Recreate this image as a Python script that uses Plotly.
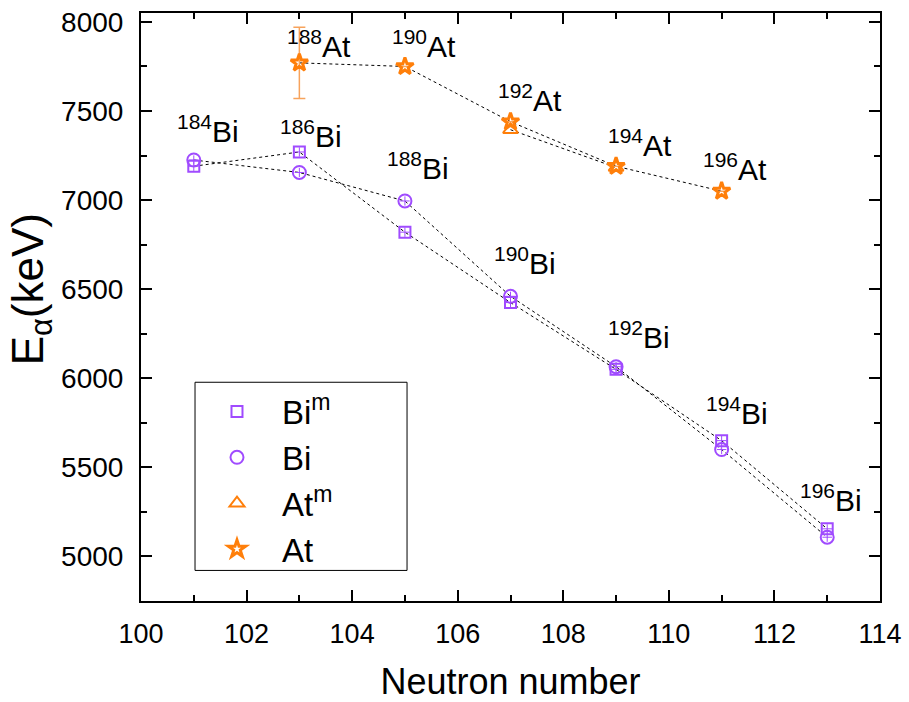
import plotly.graph_objects as go

# ---------------- data ----------------
N_bi = [101, 103, 105, 107, 109, 111, 113]
E_bi_m = [7190, 7270, 6820, 6425, 6050, 5650, 5155]
E_bi = [7225, 7155, 6995, 6460, 6065, 5600, 5108]

N_at = [103, 105, 107, 109, 111]
E_at = [7770, 7750, 7440, 7190, 7050]
E_at_err = [200, 0, 0, 0, 0]

N_at_m = [107, 109]
E_at_m = [7395, 7183]

Z_BI = 83
Z_AT = 85

x_ticks = [100, 102, 104, 106, 108, 110, 112, 114]
y_ticks = [5000, 5500, 6000, 6500, 7000, 7500, 8000]

# label pixel offsets (styling, relative to upper marker at each N)
bi_label_shift = [(14, 31), (12, 18), (13, 35), (14, 35), (23, 32), (15, 30), (4, 31)]
at_label_shift = [(20, 19), (19, 22), (19, 24), (24, 23), (13, 24)]

PURPLE = "#A04BFF"
ORANGE = "#FF7F0A"
ORANGE_ERR = "#F7A35C"
FONT = "Liberation Sans, Arial, sans-serif"

fig = go.Figure()

dash_line = dict(color="black", width=1, dash="3px,3px")
# connecting dashed lines
for xs, ys in [(N_bi, E_bi_m), (N_bi, E_bi), (N_at_m, E_at_m), (N_at, E_at)]:
    fig.add_trace(go.Scatter(x=xs, y=ys, mode="lines", line=dash_line,
                             showlegend=False, hoverinfo="skip"))

small_y = dict(type="constant", value=26, color=PURPLE, thickness=1, width=0)
small_x = dict(type="constant", value=0.09, color=PURPLE, thickness=1, width=0)

fig.add_trace(go.Scatter(x=N_bi, y=E_bi_m, mode="markers", name="Bi<sup>m</sup>",
                         marker=dict(symbol="square-open", size=11, color=PURPLE,
                                     line=dict(width=2, color=PURPLE)),
                         error_y=small_y, error_x=small_x))
fig.add_trace(go.Scatter(x=N_bi, y=E_bi, mode="markers", name="Bi",
                         marker=dict(symbol="circle-open", size=13, color=PURPLE,
                                     line=dict(width=2, color=PURPLE)),
                         error_y=small_y, error_x=small_x))
fig.add_trace(go.Scatter(x=N_at_m, y=E_at_m, mode="markers", name="At<sup>m</sup>",
                         marker=dict(symbol="triangle-up-open", size=13, color=ORANGE,
                                     line=dict(width=2, color=ORANGE))))
fig.add_trace(go.Scatter(x=N_at, y=E_at, mode="markers", name="At",
                         marker=dict(symbol="star-open", size=13, color=ORANGE,
                                     line=dict(width=3, color=ORANGE)),
                         error_y=dict(type="data", array=E_at_err, color=ORANGE_ERR,
                                      thickness=1.5, width=6)))

# isotope labels
for n, a, b, (dx, dy) in zip(N_bi, E_bi_m, E_bi, bi_label_shift):
    fig.add_annotation(x=n, y=max(a, b), text=f"<sup>{n + Z_BI}</sup>Bi",
                       showarrow=False, xshift=dx, yshift=dy,
                       font=dict(size=30, color="black", family=FONT))
for n, e, (dx, dy) in zip(N_at, E_at, at_label_shift):
    fig.add_annotation(x=n, y=e, text=f"<sup>{n + Z_AT}</sup>At",
                       showarrow=False, xshift=dx, yshift=dy,
                       font=dict(size=30, color="black", family=FONT))

# y-axis title
fig.add_annotation(x=0, xref="paper", xanchor="center", xshift=-110,
                   y=0.53, yref="paper", yanchor="middle",
                   text="E<sub>α</sub>(keV)", textangle=-90, showarrow=False,
                   font=dict(size=44, color="black", family=FONT))

axis_common = dict(showline=True, linecolor="black", linewidth=2, mirror="ticks",
                   ticks="inside", tickcolor="black", tickwidth=1.5, ticklen=11,
                   showgrid=False, zeroline=False)

fig.update_xaxes(range=[100, 114], tickvals=x_ticks,
                 minor=dict(dtick=1, ticks="inside", ticklen=6, tickcolor="black",
                            tickwidth=1.5, showgrid=False),
                 tickfont=dict(size=27, color="black", family=FONT),
                 title=dict(text="Neutron number", standoff=20,
                            font=dict(size=36, color="black", family=FONT)),
                 ticklabelstandoff=8,
                 **axis_common)
fig.update_yaxes(range=[4750, 8050], tickvals=y_ticks,
                 minor=dict(dtick=250, ticks="inside", ticklen=6, tickcolor="black",
                            tickwidth=1.5, showgrid=False),
                 tickfont=dict(size=28, color="black", family=FONT),
                 ticklabelstandoff=10,
                 **axis_common)

# legend frame
fig.add_shape(type="rect", xref="paper", yref="paper",
              x0=0.0731, x1=0.36, y0=0.052, y1=0.372,
              line=dict(color="black", width=1), fillcolor="white", layer="below")

fig.update_layout(
    width=909, height=702,
    margin=dict(l=141, r=29, t=7, b=101),
    plot_bgcolor="white", paper_bgcolor="white",
    font=dict(family=FONT, color="black"),
    legend=dict(x=0.069, y=0.37, xanchor="left", yanchor="top",
                borderwidth=0, bgcolor="rgba(0,0,0,0)",
                font=dict(size=33, color="black", family=FONT),
                tracegroupgap=0, itemwidth=80),
)

fig.write_html("out.html")
